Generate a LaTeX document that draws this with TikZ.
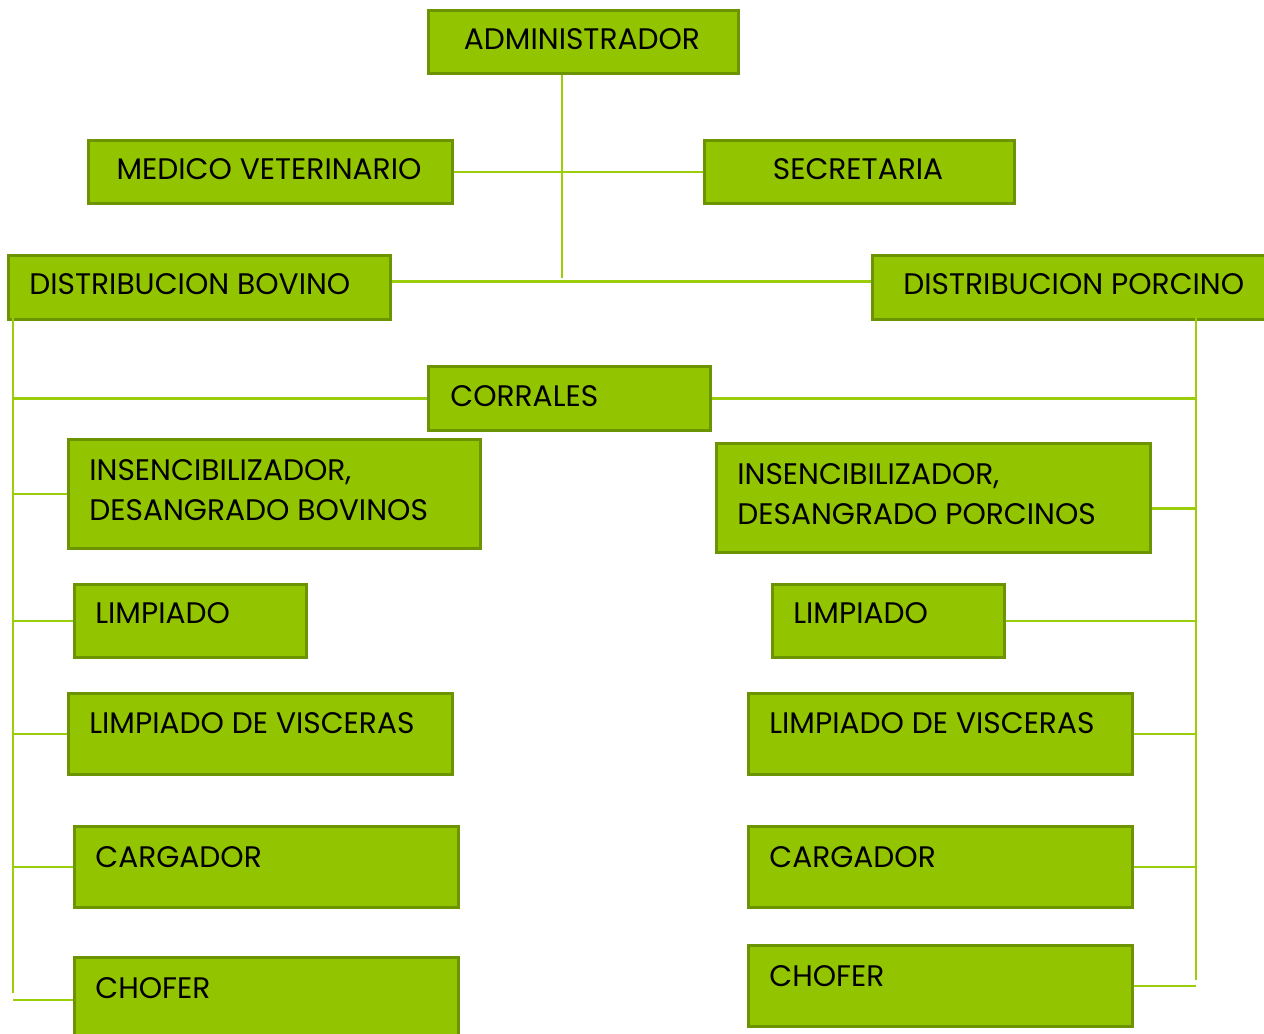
\documentclass[tikz,border=0pt]{standalone}
\usepackage{fontspec}
\setmainfont{Poppins}
\definecolor{caja}{RGB}{146,197,0}
\definecolor{borde}{RGB}{108,148,0}
\definecolor{linea}{RGB}{155,205,10}
\tikzset{
  box/.style={draw=borde,fill=caja,line width=1.8pt,anchor=north west,inner sep=0pt},
  txt/.style={anchor=base west,inner sep=0pt,font=\fontsize{16.9}{23.3}\selectfont,align=left},
  con/.style={draw=linea,line width=1.3pt}
}
\begin{document}
\begin{tikzpicture}
\useasboundingbox (0,0) rectangle (25.28,-20.68);

\node[box,minimum width=6.2cm,minimum height=1.26cm](adm) at (8.54,-0.18) {};
\node[box,minimum width=7.28cm,minimum height=1.26cm](med) at (1.74,-2.78) {};
\node[box,minimum width=6.2cm,minimum height=1.26cm](sec) at (14.06,-2.78) {};
\node[box,minimum width=7.64cm,minimum height=1.28cm](bov) at (0.14,-5.08) {};
\node[box,minimum width=7.94cm,minimum height=1.28cm](por) at (17.42,-5.08) {};
\node[box,minimum width=5.64cm,minimum height=1.28cm](corr) at (8.54,-7.30) {};
\node[box,minimum width=8.24cm,minimum height=2.18cm](insb) at (1.34,-8.76) {};
\node[box,minimum width=8.68cm,minimum height=2.18cm](insp) at (14.30,-8.84) {};
\node[box,minimum width=4.64cm,minimum height=1.46cm](limb) at (1.46,-11.66) {};
\node[box,minimum width=4.64cm,minimum height=1.46cm](limp) at (15.42,-11.66) {};
\node[box,minimum width=7.68cm,minimum height=1.62cm](visb) at (1.34,-13.84) {};
\node[box,minimum width=7.68cm,minimum height=1.62cm](visp) at (14.94,-13.84) {};
\node[box,minimum width=7.68cm,minimum height=1.62cm](carb) at (1.46,-16.50) {};
\node[box,minimum width=7.68cm,minimum height=1.62cm](carp) at (14.94,-16.50) {};
\node[box,minimum width=7.68cm,minimum height=1.70cm](chob) at (1.46,-19.12) {};
\node[box,minimum width=7.68cm,minimum height=1.62cm](chop) at (14.94,-18.88) {};

\node[txt,anchor=base](adm-t) at (11.64,-1.00) {ADMINISTRADOR};
\node[txt,anchor=base](med-t) at (5.38,-3.60) {MEDICO VETERINARIO};
\node[txt,anchor=base](sec-t) at (17.16,-3.60) {SECRETARIA};
\node[txt](bov-t) at (0.58,-5.90) {DISTRIBUCION BOVINO};
\node[txt](por-t) at (18.06,-5.90) {DISTRIBUCION PORCINO};
\node[txt](corr-t) at (9.00,-8.14) {CORRALES};
\node[txt](insb-t) at (1.78,-10.42) {INSENCIBILIZADOR,\\DESANGRADO BOVINOS};
\node[txt](insp-t) at (14.74,-10.50) {INSENCIBILIZADOR,\\DESANGRADO PORCINOS};
\node[txt](limb-t) at (1.90,-12.48) {LIMPIADO};
\node[txt](limp-t) at (15.86,-12.48) {LIMPIADO};
\node[txt](visb-t) at (1.78,-14.66) {LIMPIADO DE VISCERAS};
\node[txt](visp-t) at (15.38,-14.66) {LIMPIADO DE VISCERAS};
\node[txt](carb-t) at (1.90,-17.34) {CARGADOR};
\node[txt](carp-t) at (15.38,-17.34) {CARGADOR};
\node[txt](chob-t) at (1.90,-19.96) {CHOFER};
\node[txt](chop-t) at (15.38,-19.72) {CHOFER};

% tronco central
\coordinate (cen) at (11.24,-5.56);
\coordinate (izq) at (0.26,-6.36);
\coordinate (izq2) at (0.26,-19.86);
\coordinate (der) at (23.92,-6.36);
\coordinate (der2) at (23.92,-19.60);
\draw[con] (adm.south -| cen) -- (cen);
\draw[con] (med.east) -- (sec.west);
\draw[con] ([yshift=0.12cm]bov.east) -- ([yshift=0.12cm]por.west);

% lado bovino
\draw[con] (izq) -- (izq2);
\draw[con] (corr.west) -- (corr.west -| izq);
\draw[con] (insb.west) -- (insb.west -| izq);
\draw[con] (limb.west) -- (limb.west -| izq);
\draw[con] (visb.west) -- (visb.west -| izq);
\draw[con] (carb.west) -- (carb.west -| izq);
\draw[con] (chob.west) -- (chob.west -| izq);

% lado porcino
\draw[con] (der) -- (der2);
\draw[con] (corr.east) -- (corr.east -| der);
\draw[con] ([yshift=-0.21cm]insp.east) -- ([yshift=-0.21cm]insp.east -| der);
\draw[con] (limp.east) -- (limp.east -| der);
\draw[con] (visp.east) -- (visp.east -| der);
\draw[con] (carp.east) -- (carp.east -| der);
\draw[con] (chop.east) -- (chop.east -| der);
\end{tikzpicture}
\end{document}
